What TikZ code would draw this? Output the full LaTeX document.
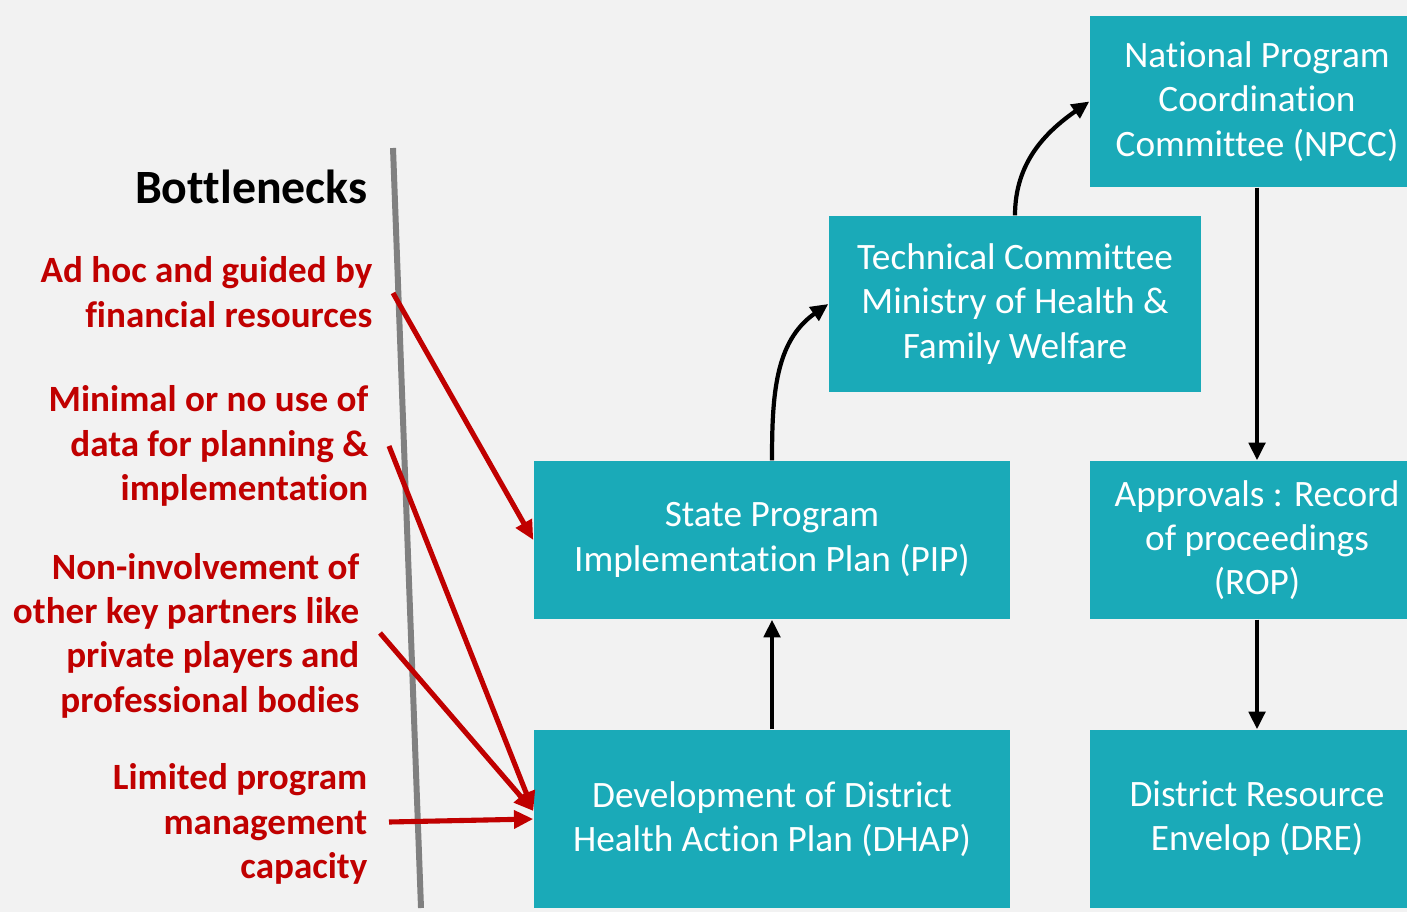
\documentclass[tikz,border=0pt]{standalone}
\usepackage{fontspec}
\setmainfont{Carlito}[Ligatures=NoCommon]
\usepackage{xcolor}
\usetikzlibrary{arrows.meta}
\definecolor{PlanTeal}{HTML}{1AAAB8}
\definecolor{PlanRed}{HTML}{C00000}
\definecolor{PlanGrey}{HTML}{808080}
\definecolor{PlanBack}{HTML}{F2F2F2}

\begin{document}
\begin{tikzpicture}[x=1cm,y=1cm,
  planbox/.style={fill=PlanTeal,text=white,align=center,inner sep=0pt,
    font=\fontsize{10.6}{12.6}\selectfont},
  issue/.style={anchor=east,align=right,inner sep=0pt,text=PlanRed,
    font=\fontsize{10.55}{12.6}\selectfont\bfseries},
  flow/.style={line width=1.2pt,-{Triangle[length=5pt,width=4.6pt]}},
  block/.style={PlanRed,line width=1.45pt,-{Triangle[length=5.5pt,width=5pt]}}]
\path[use as bounding box] (0,0) rectangle (14.07,9.12);
\fill[PlanBack] (0,0) rectangle (14.07,9.12);

% planning chain
\node[planbox,minimum width=3.34cm,minimum height=1.71cm] (npcc) at (12.57,8.105)
  {National Program\\Coordination\\Committee (NPCC)};
\node[planbox,minimum width=3.72cm,minimum height=1.76cm] (tc) at (10.15,6.08)
  {Technical Committee\\Ministry of Health \&\\Family Welfare};
\node[planbox,minimum width=4.76cm,minimum height=1.58cm] (pip) at (7.72,3.72)
  {State Program\\Implementation Plan (PIP)};
\node[planbox,minimum width=3.34cm,minimum height=1.58cm] (rop) at (12.57,3.72)
  {Approvals : Record\\of proceedings\\(ROP)};
\node[planbox,minimum width=4.76cm,minimum height=1.78cm] (dhap) at (7.72,0.93)
  {Development of District\\Health Action Plan (DHAP)};
\node[planbox,minimum width=3.34cm,minimum height=1.78cm] (dre) at (12.57,0.93)
  {District Resource\\Envelop (DRE)};

\draw[flow] (dhap.north) -- (pip.south);
\draw[flow] (pip.north) to[out=90,in=215] (tc.west);
\draw[flow] (tc.north) to[out=90,in=215] (npcc.west);
\draw[flow] (npcc.south) -- (rop.north);
\draw[flow] (rop.south) -- (dre.north);

% bottlenecks
\draw[PlanGrey,line width=1.7pt] (3.93,7.64) -- (4.21,0.04);
\node[anchor=east,inner sep=0pt,font=\fontsize{13.6}{15}\selectfont\bfseries] (head) at (3.68,7.25) {Bottlenecks};
\node[issue] (adhoc) at (3.73,6.20) {Ad hoc and guided by\\financial resources};
\node[issue] (nodata) at (3.69,4.66) {Minimal or no use of\\data for planning \&\\implementation};
\node[issue] (partners) at (3.60,2.765) {Non-involvement of\\other key partners like\\private players and\\professional bodies};
\node[issue] (capacity) at (3.68,0.88) {Limited program\\management\\capacity};

\coordinate (a1) at (3.93,6.19);
\coordinate (a2) at (3.89,4.66);
\coordinate (a3) at (3.80,2.79);
\coordinate (a4) at (3.89,0.90);
\draw[block] (a1) -- (pip.west);
\draw[block] (a2) -- ([yshift=0.08cm]dhap.west);
\draw[block] (a3) -- ([yshift=0.08cm]dhap.west);
\draw[block] (a4) -- (dhap.west);
\end{tikzpicture}
\end{document}
